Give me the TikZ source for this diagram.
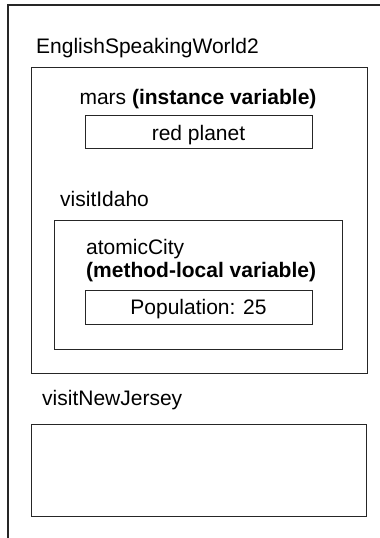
\documentclass[tikz,border=0pt]{standalone}
\usepackage{fontspec}
\setmainfont{Liberation Sans}
\begin{document}
\begin{tikzpicture}[x=1pt,y=-1pt,
  frame/.style={draw=black!85, line width=1.3pt},
  box/.style={frame, anchor=north west, inner sep=0pt},
  lbl/.style={anchor=base west, inner sep=0pt, font=\fontsize{21}{25}\selectfont},
  clbl/.style={lbl, anchor=base}]
\useasboundingbox (0,0) rectangle (380,538);
% outer (cropped) frame
\coordinate (otr) at (380,5);
\coordinate (otl) at (8,5);
\coordinate (obl) at (8,538);
\draw[frame] (otr) -- (otl) -- (obl);
\node[lbl] (title) at (36,53) {EnglishSpeakingWorld2};
% instance box
\node[box, minimum width=336pt, minimum height=306pt] (inst) at (31,67) {};
\node[clbl] (mars) at (198,104) {mars \textbf{(instance variable)}};
\node[box, minimum width=227pt, minimum height=33pt] (redbox) at (85,115) {};
\node[clbl] (red) at (198.5,140) {red planet};
% visitIdaho
\node[lbl] (idaho) at (60,206) {visitIdaho};
\node[box, minimum width=288pt, minimum height=129pt] (idbox) at (54,220) {};
\node[lbl] (atom) at (86,254) {atomicCity};
\node[lbl] (mlv) at (86,277) {\textbf{(method-local variable)}};
\node[box, minimum width=227pt, minimum height=34pt] (popbox) at (85,290) {};
\node[clbl] (pop) at (198.5,314) {Population: 25};
% visitNewJersey
\node[lbl] (nj) at (42,405) {visitNewJersey};
\node[box, minimum width=335pt, minimum height=92pt] (njbox) at (31,424) {};
\end{tikzpicture}
\end{document}
